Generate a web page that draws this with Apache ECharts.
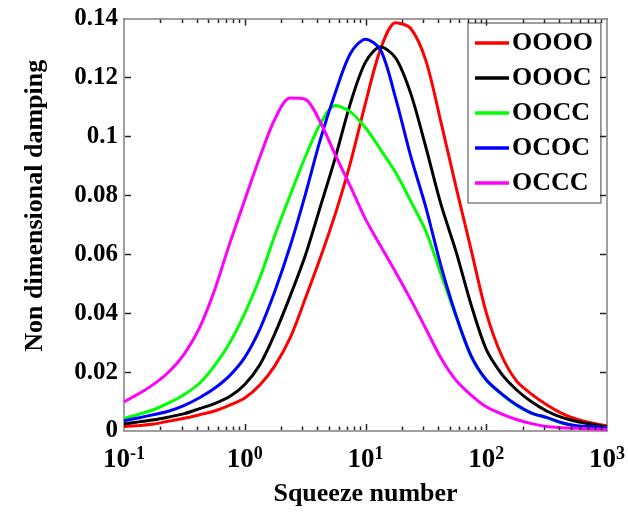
<!DOCTYPE html>
<html>
<head>
<meta charset="utf-8">
<script src="https://cdn.jsdelivr.net/npm/echarts@6/dist/echarts.min.js"></script>
<style>
html,body{margin:0;padding:0;background:#fff;overflow:hidden;}
#chart{width:628px;height:513px;}
</style>
</head>
<body>
<div id="chart"></div>
<script>
// Squeeze number samples (x, log scale), read every 1/8 decade
const squeeze = [0.1,0.1334,0.1778,0.2371,0.3162,0.4217,0.5623,0.7499,1,1.334,1.778,2.371,3.162,4.217,5.623,7.499,10,13.34,17.78,23.71,31.62,42.17,56.23,74.99,100,133.4,177.8,237.1,316.2,421.7,562.3,749.9,1000];
// Non dimensional damping per configuration
const OOOO = [0.0015,0.0019,0.0024,0.0034,0.0043,0.0055,0.0068,0.0088,0.0112,0.0156,0.0222,0.0315,0.0448,0.0587,0.0737,0.0910,0.1113,0.1297,0.1386,0.1366,0.1257,0.1048,0.0828,0.0615,0.0402,0.0258,0.0170,0.0125,0.0089,0.0060,0.0040,0.0027,0.0017];
const OOOC = [0.0024,0.0031,0.0038,0.0048,0.0059,0.0076,0.0093,0.0117,0.0158,0.0225,0.0331,0.0457,0.0594,0.0760,0.0928,0.1112,0.1252,0.1303,0.1266,0.1145,0.0963,0.0769,0.0609,0.0428,0.0277,0.0195,0.0140,0.0099,0.0068,0.0046,0.0032,0.0023,0.0014];
const OOCC = [0.0043,0.0057,0.0073,0.0096,0.0124,0.0162,0.0222,0.0299,0.0399,0.0520,0.0665,0.0799,0.0929,0.1042,0.1105,0.1083,0.1029,0.0955,0.0877,0.0780,0.0678,0.0533,0.0388,0.0252,0.0172,0.0125,0.0087,0.0060,0.0045,0.0027,0.0017,0.0014,0.0010];
const OCOC = [0.0035,0.0045,0.0056,0.0068,0.0087,0.0113,0.0145,0.0188,0.0250,0.0346,0.0475,0.0626,0.0800,0.0988,0.1148,0.1281,0.1330,0.1293,0.1129,0.0932,0.0759,0.0560,0.0392,0.0255,0.0174,0.0127,0.0089,0.0061,0.0046,0.0028,0.0018,0.0015,0.0010];
const OCCC = [0.0099,0.0127,0.0160,0.0202,0.0262,0.0350,0.0478,0.0636,0.0784,0.0930,0.1059,0.1130,0.1126,0.1049,0.0937,0.0830,0.0719,0.0628,0.0539,0.0446,0.0347,0.0248,0.0172,0.0122,0.0082,0.0058,0.0039,0.0025,0.0015,0.0011,0.0009,0.0007,0.0005];
const seriesNames = ['OOOO','OOOC','OOCC','OCOC','OCCC'];
const seriesColors = ['#ff0000','#000000','#00ff00','#0000ff','#ff00ff'];
const yTicks = [0,0.02,0.04,0.06,0.08,0.1,0.12,0.14];
const decades = [0.1,1,10,100,1000];

const seriesData = [OOOO,OOOC,OOCC,OCOC,OCCC];
const minorTicks = [];
for (let d = 0; d < decades.length - 1; d++) {
  for (let k = 2; k <= 9; k++) minorTicks.push(decades[d] * k);
}

const font = 'Liberation Serif, Times New Roman, serif';
const chart = echarts.init(document.getElementById('chart'), null, {renderer:'canvas', width: 628, height: 513});

const lineSeries = seriesNames.map((name, i) => ({
  name: name,
  type: 'line',
  data: squeeze.map((x, j) => [x, seriesData[i][j]]),
  smooth: 0.3,
  symbol: 'none',
  lineStyle: {color: seriesColors[i], width: 3},
  itemStyle: {color: seriesColors[i]},
  z: 3
}));

// tick marks along the frame, drawn through the library's coordinate system
const tickSeries = {
  type: 'custom',
  silent: true,
  clip: false,
  z: 20,
  data: [[decades[1], yTicks[3]]],
  renderItem: function (params, api) {
    const yMin = yTicks[0], yMax = yTicks[yTicks.length - 1];
    const xMin = decades[0], xMax = decades[decades.length - 1];
    const children = [];
    const seg = (a, b) => ({
      type: 'line',
      shape: {x1: a[0], y1: a[1], x2: b[0], y2: b[1]},
      style: {stroke: '#222', lineWidth: 1.5}
    });
    const xTick = (v, len) => {
      const b = api.coord([v, yMin]);
      const t = api.coord([v, yMax]);
      const x = Math.round(b[0]) + 0.5;
      children.push(seg([x, b[1] - 1], [x, b[1] - len]));
      children.push(seg([x, t[1] + 1], [x, t[1] + len]));
    };
    minorTicks.forEach(v => xTick(v, 4.5));
    decades.slice(1, -1).forEach(v => xTick(v, 7));
    yTicks.slice(1, -1).forEach(v => {
      const l = api.coord([xMin, v]);
      const r = api.coord([xMax, v]);
      const y = Math.round(l[1]) + 0.5;
      children.push(seg([l[0] + 1, y], [l[0] + 7, y]));
      children.push(seg([r[0] - 1, y], [r[0] - 7, y]));
    });
    return {type: 'group', children: children};
  }
};

const axisLineStyle = {show: true, onZero: false, lineStyle: {color: '#808080', width: 1.5}};

chart.setOption({
  animation: false,
  backgroundColor: '#fff',
  grid: {left: 124, top: 18.5, width: 485, height: 412.5, containLabel: false},
  legend: {
    orient: 'vertical',
    left: 468, top: 23,
    padding: [7, 8, 7, 7],
    itemWidth: 34, itemHeight: 22, itemGap: 9,
    borderColor: '#808080', borderWidth: 1.5,
    backgroundColor: '#fff',
    data: seriesNames.map((n, i) => ({name: n, icon: 'path://M0,9.5 L34,9.5 L34,13 L0,13 Z', itemStyle: {color: seriesColors[i]}})),
    textStyle: {fontFamily: font, fontWeight: 'bold', fontSize: 26, color: '#000', padding: [0, 0, 0, -2]}
  },
  xAxis: [{
    type: 'log', logBase: 10, min: 0.1, max: 1000,
    position: 'bottom',
    name: 'Squeeze number', nameLocation: 'middle', nameGap: 50,
    nameTextStyle: {fontFamily: font, fontWeight: 'bold', fontSize: 26, color: '#000'},
    axisLine: axisLineStyle,
    axisTick: {show: false},
    splitLine: {show: false},
    axisLabel: {
      margin: 14,
      formatter: function (v) {
        const e = Math.round(Math.log10(v));
        return '{b|10}{s|' + e + '}';
      },
      rich: {
        b: {fontFamily: font, fontWeight: 'bold', fontSize: 27, color: '#000'},
        s: {fontFamily: font, fontWeight: 'bold', fontSize: 18, color: '#000', verticalAlign: 'bottom', padding: [0, 0, 12, 0]}
      }
    }
  }, {
    type: 'log', logBase: 10, min: 0.1, max: 1000,
    position: 'top',
    axisLine: axisLineStyle,
    axisTick: {show: false},
    axisLabel: {show: false},
    splitLine: {show: false}
  }],
  yAxis: [{
    type: 'value', min: 0, max: 0.14, interval: 0.02,
    position: 'left',
    name: 'Non dimensional damping', nameLocation: 'middle', nameGap: 76,
    nameTextStyle: {fontFamily: font, fontWeight: 'bold', fontSize: 26, color: '#000', padding: [0, 0, 0, 38]},
    axisLine: axisLineStyle,
    axisTick: {show: false},
    splitLine: {show: false},
    axisLabel: {
      margin: 6,
      fontFamily: font, fontWeight: 'bold', fontSize: 25, color: '#000',
      formatter: function (v) {
        const i = yTicks.findIndex(t => Math.abs(t - v) < 1e-9);
        return i >= 0 ? String(yTicks[i]) : '';
      }
    }
  }, {
    type: 'value', min: 0, max: 0.14, interval: 0.02,
    position: 'right',
    axisLine: axisLineStyle,
    axisTick: {show: false},
    axisLabel: {show: false},
    splitLine: {show: false}
  }],
  series: lineSeries.concat([tickSeries])
});
</script>
</body>
</html>
